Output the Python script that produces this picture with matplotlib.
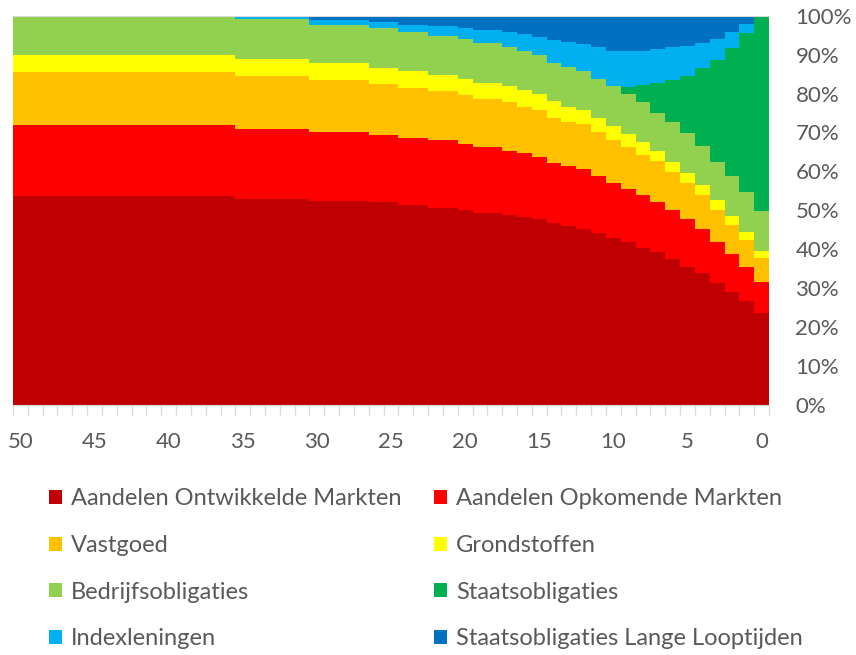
import numpy as np
import matplotlib
matplotlib.use("Agg")
import matplotlib.pyplot as plt
from matplotlib.ticker import FixedLocator, PercentFormatter

# years to go, from 50 down to 0 (one column per year)
years = list(range(50, -1, -1))

names = [
    "Aandelen Ontwikkelde Markten",
    "Aandelen Opkomende Markten",
    "Vastgoed",
    "Grondstoffen",
    "Bedrijfsobligaties",
    "Staatsobligaties",
    "Indexleningen",
    "Staatsobligaties Lange Looptijden",
]
colors = ["#C00000", "#FF0000", "#FFC000", "#FFFF00",
          "#92D050", "#00B050", "#00B0F0", "#0070C0"]

# weights in % per year, years 50 .. 0
aandelen_ontw = [53.7] * 15 + [53.0] * 5 + [52.4] * 4 + [52.1] * 2 + [51.4] * 2 + [50.7] * 2 + \
    [50.1, 49.4, 49.4, 48.8, 48.3, 47.7, 46.7, 46.0, 45.3, 44.1, 42.9,
     41.8, 40.5, 39.4, 37.5, 35.6, 33.9, 31.3, 29.0, 26.8, 23.6]
aandelen_opk = [18.1] * 15 + [17.8] * 5 + [17.8] * 4 + [17.2] * 2 + [17.2] * 2 + [17.4] * 2 + \
    [16.9, 17.0, 17.0, 16.5, 16.4, 16.1, 15.4, 15.5, 15.3, 14.8, 14.2,
     13.7, 13.5, 12.9, 12.6, 12.2, 11.3, 10.7, 9.8, 8.8, 8.1]
vastgoed = [13.6] * 15 + [13.6] * 5 + [13.3] * 4 + [13.2] * 2 + [12.9] * 2 + [12.5] * 2 + \
    [12.6, 12.2, 12.2, 12.4, 11.9, 12.0, 11.7, 11.3, 11.6, 11.2, 11.1,
     10.8, 10.2, 10.4, 9.7, 9.2, 8.8, 8.1, 7.5, 6.8, 6.2]
grondstoffen = [4.5] * 15 + [4.5] * 5 + [4.4] * 4 + [4.1] * 2 + [4.2] * 2 + [4.1] * 2 + \
    [4.1, 4.2, 4.2, 4.1, 4.3, 4.1, 4.2, 3.8, 3.6, 3.6, 3.4,
     3.4, 3.4, 2.6, 2.7, 2.7, 2.5, 2.6, 2.3, 2.2, 1.8]
bedrijfsobl = [10.1] * 15 + [10.1] * 5 + [9.7] * 4 + [10.1] * 2 + [10.1] * 2 + [10.0] * 2 + \
    [10.2, 10.1, 10.1, 10.0, 10.1, 10.0, 9.7, 10.1, 9.9, 10.0, 10.3,
     10.1, 10.3, 9.8, 10.3, 10.1, 10.1, 9.8, 10.2, 10.1, 10.2]
staatsobl = [0.0] * 41 + [1.9, 4.2, 7.7, 10.7, 14.8, 20.0, 26.1, 32.8, 40.7, 50.1]
indexlen = [0.0] * 15 + [0.6] * 5 + [1.3] * 4 + [1.7] * 2 + [1.8] * 2 + [2.7] * 2 + \
    [2.8, 3.4, 3.4, 3.9, 4.3, 4.7, 6.1, 6.4, 7.1, 8.1, 9.0,
     9.2, 8.8, 8.6, 8.3, 7.6, 6.4, 5.4, 4.1, 2.3, 0.0]
staatsobl_lang = [0.0] * 15 + [0.4] * 5 + [1.1] * 4 + [1.6] * 2 + [2.4] * 2 + [2.6] * 2 + \
    [3.3, 3.7, 3.7, 4.3, 4.7, 5.4, 6.2, 6.9, 7.2, 8.2, 9.1,
     9.1, 9.1, 8.6, 8.2, 7.8, 7.0, 6.0, 4.3, 2.3, 0.0]

series = [aandelen_ontw, aandelen_opk, vastgoed, grondstoffen,
          bedrijfsobl, staatsobl, indexlen, staatsobl_lang]

plt.rcParams['font.family'] = ['Lato', 'DejaVu Sans']
grey = "#595959"

fig = plt.figure(figsize=(8.56, 6.55), dpi=100)
ax = fig.add_axes([0.0152, 0.381, 0.8832, 0.5953])

x = np.array(years)
bottom = np.zeros(len(years))
handles = []
for vals, name, col in zip(series, names, colors):
    v = np.array(vals)
    b = ax.bar(x, v, width=1.0, bottom=bottom, color=col, label=name,
               linewidth=0, align="center")
    handles.append(b)
    bottom += v

ax.set_xlim(50.5, -0.5)
ax.set_ylim(0, 100)

ax.yaxis.tick_right()
ax.yaxis.set_major_locator(FixedLocator(range(0, 101, 10)))
ax.yaxis.set_major_formatter(PercentFormatter(decimals=0))
ax.tick_params(axis="y", length=0, pad=19, labelsize=16, labelcolor=grey)

ax.xaxis.set_major_locator(FixedLocator(range(0, 51, 5)))
ax.xaxis.set_minor_locator(FixedLocator(np.arange(-0.5, 51, 1)))
ax.tick_params(axis="x", which="major", length=0, pad=19, labelsize=16, labelcolor=grey)
ax.tick_params(axis="x", which="minor", length=7, width=1, color="#d9d9d9")

for s in ["left", "right"]:
    ax.spines[s].set_visible(False)
ax.spines["bottom"].set_color("#d9d9d9")
ax.spines["top"].set_color("#d9d9d9")

order = [0, 2, 4, 6, 1, 3, 5, 7]
fig.legend([handles[k] for k in order], [names[k] for k in order],
           ncol=2, loc="upper left", bbox_to_anchor=(0.046, 0.269),
           frameon=False, fontsize=17, labelcolor=grey,
           handlelength=0.55, handleheight=0.55, handletextpad=0.4,
           columnspacing=1.35, labelspacing=1.09, borderaxespad=0)

fig.savefig("out.png", dpi=100)
